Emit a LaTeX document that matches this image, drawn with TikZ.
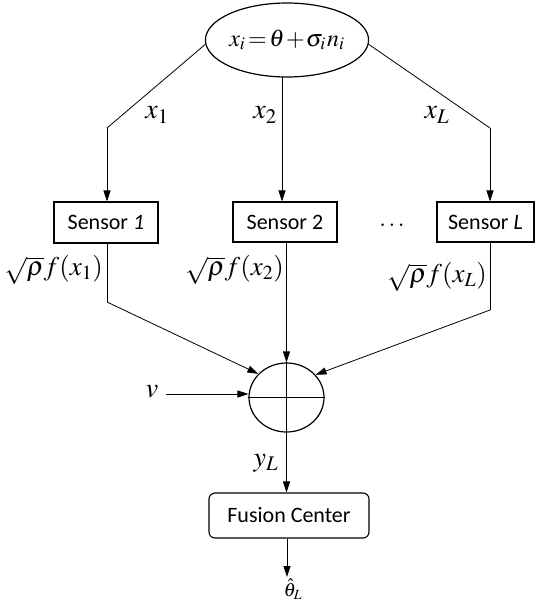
\documentclass[tikz,border=0pt]{standalone}
\usepackage{mathptmx}
\usepackage[no-math]{fontspec}
\newfontfamily\sensorfont{Carlito}
\usetikzlibrary{arrows.meta,shapes.geometric}
\tikzset{
  conn/.style={line width=0.8pt},
  arr/.style={conn,-{Triangle[length=11pt,width=7pt]}},
  box/.style={draw,line width=1.1pt,inner sep=0pt,font=\sensorfont\fontsize{22}{25}\selectfont},
  oval/.style={draw,ellipse,line width=1.2pt,inner sep=0pt},
  mlab/.style={inner sep=0pt,font=\fontsize{28}{30}\selectfont},
  flab/.style={inner sep=0pt,anchor=east,font=\fontsize{27}{29}\selectfont},
}
\begin{document}
\begin{tikzpicture}[x=1pt,y=-1pt]
\useasboundingbox (0,0) rectangle (535,603);
% source ellipse
\node[oval,minimum width=152pt,minimum height=74pt,font=\fontsize{24}{26}\selectfont] (E) at (287,40) {$x_i\mkern2mu{=}\mkern2mu\theta\mkern1mu{+}\mkern1mu\sigma_i\mkern1mu n_i$};
% sensors
\node[box,minimum width=104pt,minimum height=41pt] (S1) at (106,222.5) {Sensor \textit{1}};
\node[box,minimum width=104pt,minimum height=40pt] (S2) at (285,222) {Sensor 2};
\node[box,minimum width=97pt,minimum height=40pt] (SL) at (485.5,222) {Sensor \textit{L}};
\node[inner sep=0pt,anchor=base,font=\fontsize{24}{26}\selectfont] (dots) at (392,226) {$\ldots$};
% bend points
\coordinate (b1) at (107,128);
\coordinate (bL) at (490,128);
\coordinate (e2) at (282,77);
\coordinate (s1o) at (107,302);
\coordinate (sLo) at (490,310);
% source to sensors
\draw[conn] (E.183) -- (b1);
\draw[arr] (b1) -- (b1 |- S1.north);
\draw[arr] (e2) -- (e2 |- S2.north);
\draw[conn] (E.357) -- (bL);
\draw[arr] (bL) -- (bL |- SL.north);
\node[mlab] (lx1) at (157,115) {$x_1$};
\node[mlab] (lx2) at (265,115) {$x_2$};
\node[mlab] (lxL) at (437,115) {$x_L$};
% adder
\node[oval,minimum width=75pt,minimum height=69pt] (C) at (286.5,397.5) {};
\draw[line width=1.1pt] (C.north) -- (C.south);
\draw[line width=1.1pt] (C.west) -- (C.east);
% sensors to adder
\draw[conn] (S1.south -| s1o) -- (s1o);
\draw[arr] (s1o) -- (C.140);
\draw[arr] (S2.south -| C.north) -- (C.north);
\draw[conn] (SL.south -| sLo) -- (sLo);
\draw[arr] (sLo) -- (C.38);
\node[flab] (f1) at (103,270) {$\sqrt{\rho}f(x_1)$};
\node[flab] (f2) at (284,270) {$\sqrt{\rho}f(x_2)$};
\node[flab] (fL) at (487,277) {$\sqrt{\rho}f(x_L)$};
% noise
\node[mlab] (v) at (152,392) {$v$};
\coordinate (vs) at (166,394);
\draw[arr] (vs) -- (C.west |- vs);
% fusion
\node[box,rounded corners=6pt,minimum width=160pt,minimum height=45pt] (F) at (289,515.5) {Fusion Center};
\draw[arr] (C.south) -- (C.south |- F.north);
\node[mlab] (yL) at (266,463) {$y_L$};
\coordinate (out) at (287,577);
\draw[arr] (F.south -| out) -- (out);
\node[inner sep=0pt,font=\fontsize{19}{21}\selectfont] (th) at (293,589) {$\hat{\theta}_L$};
\end{tikzpicture}
\end{document}
